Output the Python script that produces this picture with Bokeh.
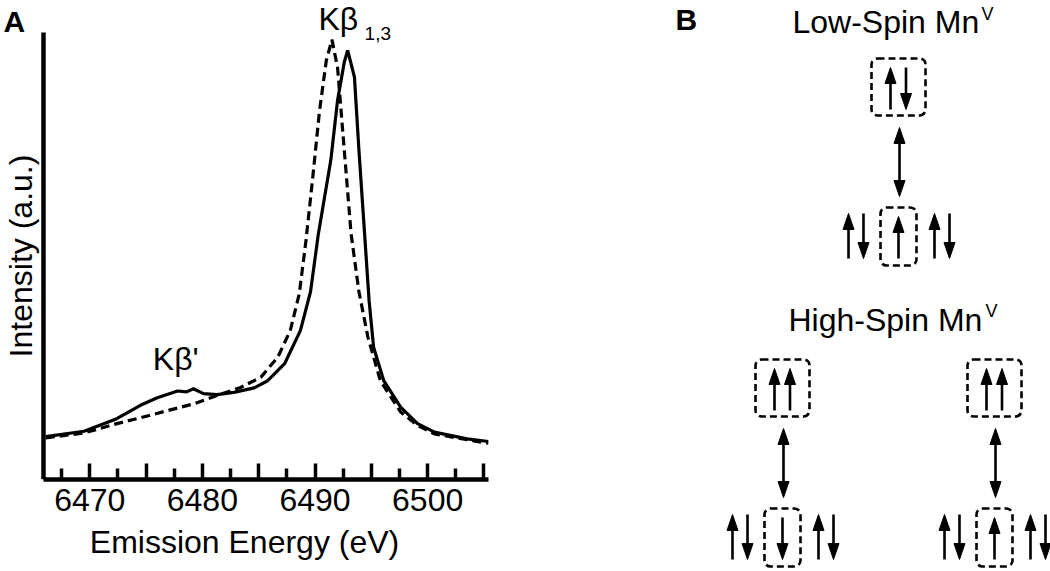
from bokeh.plotting import figure
from bokeh.models import Range1d, FixedTicker, Label
from bokeh.layouts import row
from bokeh.core.properties import value
from bokeh.embed import file_html
from bokeh.resources import INLINE

FONT = "Liberation Sans"

# ---------------- Panel A data ----------------
energy_solid = [6466.1, 6469.5, 6472.4, 6474.5, 6476.0, 6477.8, 6478.6, 6479.2, 6480.1,
                6481.3, 6482.8, 6484.6, 6485.8, 6487.3, 6488.7, 6489.6, 6490.3, 6491.4,
                6492.0, 6492.6, 6492.9, 6493.5, 6493.9, 6494.4, 6494.8, 6495.2, 6496.1,
                6497.6, 6499.1, 6500.6, 6503.5, 6505.4]
intensity_solid = [0.096, 0.108, 0.136, 0.166, 0.183, 0.198, 0.196, 0.203, 0.192,
                   0.190, 0.195, 0.205, 0.221, 0.259, 0.333, 0.420, 0.550, 0.714,
                   0.848, 0.934, 0.960, 0.900, 0.736, 0.550, 0.400, 0.296, 0.221,
                   0.162, 0.125, 0.106, 0.091, 0.085]

energy_dashed = [6466.1, 6469.5, 6472.4, 6474.5, 6476.9, 6479.2, 6481.3, 6483.4, 6485.2,
                 6486.7, 6487.8, 6488.6, 6489.2, 6489.8, 6490.4, 6491.0, 6491.5, 6492.0,
                 6492.6, 6493.2, 6493.9, 6494.7, 6495.8, 6497.6, 6499.1, 6500.6, 6503.5,
                 6505.4]
intensity_dashed = [0.093, 0.104, 0.125, 0.138, 0.154, 0.169, 0.188, 0.206, 0.229,
                    0.274, 0.333, 0.415, 0.535, 0.676, 0.825, 0.937, 0.984, 0.922,
                    0.736, 0.550, 0.420, 0.318, 0.221, 0.151, 0.121, 0.102, 0.089,
                    0.081]

x_axis_start, x_axis_end = 6465.9, 6505.4
major_ticks = [6470, 6475, 6480, 6485, 6490, 6495, 6500, 6505]
minor_ticks = [6467.5, 6472.5, 6477.5, 6482.5, 6487.5, 6492.5, 6497.5, 6502.5]
tick_labels = {6470: "6470", 6475: "", 6480: "6480", 6485: "", 6490: "6490",
               6495: "", 6500: "6500", 6505: ""}

# frame covers the whole panel so that the panel letter and peak labels are inside it;
# the axes are bounded to the data area
pA = figure(width=648, height=571, output_backend="svg", toolbar_location=None,
            x_range=Range1d(6462.08, x_axis_end), y_range=Range1d(0, 1.0716),
            min_border_left=0, min_border_right=160, min_border_top=0,
            min_border_bottom=92)
pA.frame_align = False
pA.outline_line_color = None
pA.grid.visible = False

pA.line(energy_solid, intensity_solid, line_color="black", line_width=3.2)
pA.line(energy_dashed, intensity_dashed, line_color="black", line_width=3.2,
        line_dash="9 5")

xa = pA.xaxis[0]
xa.ticker = FixedTicker(ticks=major_ticks, minor_ticks=minor_ticks)
xa.bounds = (x_axis_start, x_axis_end)
xa.major_label_overrides = tick_labels
xa.axis_line_width = 4.5
xa.major_tick_line_width = 3.5
xa.minor_tick_line_width = 3.5
xa.major_tick_in = 16
xa.major_tick_out = 0
xa.minor_tick_in = 11
xa.minor_tick_out = 0
xa.major_label_standoff = 9
xa.major_label_text_font = FONT
xa.major_label_text_font_size = "32px"
xa.major_label_text_color = "black"
xa.axis_label = "Emission Energy (eV)"
xa.axis_label_text_font = FONT
xa.axis_label_text_font_size = "32px"
xa.axis_label_text_font_style = "normal"
xa.axis_label_text_color = "black"
xa.axis_label_standoff = 10

ya = pA.yaxis[0]
ya.fixed_location = x_axis_start
ya.bounds = (0, 1)
ya.ticker = FixedTicker(ticks=[])
ya.axis_line_width = 4.5
ya.major_tick_out = 0
ya.minor_tick_out = 0
ya.axis_label = "Intensity (a.u.)"
ya.axis_label_text_font = FONT
ya.axis_label_text_font_size = "32px"
ya.axis_label_text_font_style = "normal"
ya.axis_label_text_color = "black"
ya.axis_label_standoff = 5

pA.add_layout(Label(x=6462.35, y=1.0242, text="A", text_font=FONT, text_font_size="30px",
                    text_font_style="bold", text_baseline="middle", text_color="black"))
pA.add_layout(Label(x=6490.3, y=1.0302, text="Kβ", text_font=FONT, text_font_size="32px",
                    text_baseline="middle", text_color="black"))
pA.add_layout(Label(x=6494.4, y=0.9973, text="1,3", text_font=FONT, text_font_size="19px",
                    text_baseline="middle", text_color="black"))
pA.add_layout(Label(x=6475.6, y=0.2696, text="Kβ'", text_font=FONT, text_font_size="32px",
                    text_baseline="middle", text_color="black"))

# ---------------- Panel B (schematic, page-pixel coordinates) ----------------
pB = figure(width=402, height=571, output_backend="svg", toolbar_location=None,
            x_range=Range1d(648, 1050), y_range=Range1d(571, 0),
            min_border=0, x_axis_type=None, y_axis_type=None)
pB.frame_align = False
pB.outline_line_color = None
pB.grid.visible = False

diagram_cx = [898, 782, 994]
diagram_top = [58, 359, 359]
diagram_top_spins = [["up", "down"], ["up", "up"], ["up", "up"]]
diagram_mid_spin = ["up", "down", "up"]

seg_x0, seg_y0, seg_x1, seg_y1 = [], [], [], []
head_xs, head_ys = [], []
box_l, box_r, box_t, box_b = [], [], [], []

HL, HW = 16, 5.5


def add_arrow(x, y_tail, y_tip):
    d = 1 if y_tip > y_tail else -1  # +1 means pointing down on the page
    base = y_tip - d * HL
    seg_x0.append(x); seg_y0.append(y_tail); seg_x1.append(x); seg_y1.append(base + d * 2)
    head_xs.append([x - HW, x + HW, x]); head_ys.append([base, base, y_tip])


def add_spin(x, top, bottom, spin):
    if spin == "up":
        add_arrow(x, bottom, top)
    else:
        add_arrow(x, top, bottom)


def add_double(x, y0, y1):
    mid = (y0 + y1) / 2
    add_arrow(x, mid, y0)
    add_arrow(x, mid, y1)


for cx, top, tspins, mspin in zip(diagram_cx, diagram_top, diagram_top_spins, diagram_mid_spin):
    box_l.append(cx - 27); box_r.append(cx + 27); box_t.append(top); box_b.append(top + 57)
    add_spin(cx - 8, top + 9, top + 51, tspins[0])
    add_spin(cx + 7.5, top + 9, top + 51, tspins[1])
    add_double(cx + 1, top + 69, top + 138)
    box_l.append(cx - 18); box_r.append(cx + 18); box_t.append(top + 149); box_b.append(top + 207)
    add_spin(cx - 50, top + 155, top + 200, "up")
    add_spin(cx - 35, top + 155, top + 200, "down")
    add_spin(cx, top + 158, top + 200, mspin)
    add_spin(cx + 36, top + 155, top + 200, "up")
    add_spin(cx + 51, top + 155, top + 200, "down")

pB.quad(left=box_l, right=box_r, top=box_t, bottom=box_b, fill_color=None,
        line_color="black", line_width=2.6, line_dash="7 4", border_radius=6)
pB.segment(x0=seg_x0, y0=seg_y0, x1=seg_x1, y1=seg_y1, line_color="black", line_width=2.6)
pB.patches(xs=head_xs, ys=head_ys, fill_color="black", line_color="black", line_width=1)

pB.text(x=[675], y=[19.2], text=["B"], text_font=value(FONT), text_font_size="30px",
        text_font_style="bold", text_baseline="middle", text_color="black")
title_x = [792, 788]
title_y = [21.5, 319.5]
title_text = ["Low-Spin Mn", "High-Spin Mn"]
pB.text(x=title_x, y=title_y, text=title_text, text_font=value(FONT),
        text_font_size="32px", text_baseline="middle", text_color="black")
sup_x = [981, 985]
sup_y = [13.5, 310.5]
sup_text = ["V", "V"]
pB.text(x=sup_x, y=sup_y, text=sup_text, text_font=value(FONT), text_font_size="18px",
        text_baseline="middle", text_color="black")

layout = row(pA, pB)
open("out.html", "w").write(file_html(layout, INLINE))
